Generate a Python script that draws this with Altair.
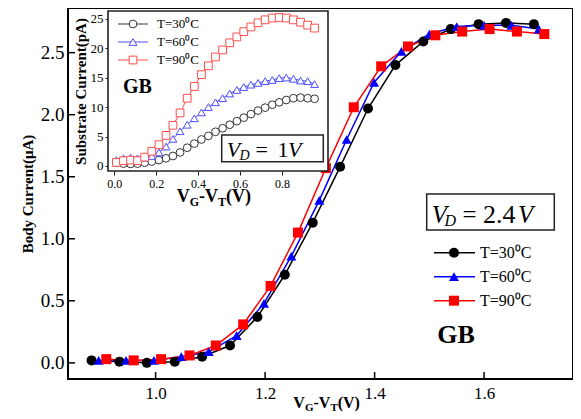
import altair as alt
import pandas as pd

series = ["T=30⁰C", "T=60⁰C", "T=90⁰C"]

# ---- main panel (body current, uA) ----
x_30 = [0.883, 0.934, 0.984, 1.035, 1.085, 1.136, 1.186, 1.236, 1.287, 1.337, 1.388, 1.438, 1.489, 1.539, 1.590, 1.640, 1.691]
y_30 = [0.02, 0.01, 0.00, 0.01, 0.05, 0.14, 0.37, 0.71, 1.13, 1.58, 2.05, 2.40, 2.59, 2.69, 2.73, 2.74, 2.73]
x_60 = [0.896, 0.946, 0.997, 1.047, 1.097, 1.148, 1.198, 1.248, 1.299, 1.349, 1.399, 1.449, 1.500, 1.550, 1.600, 1.650, 1.700]
y_60 = [0.02, 0.02, 0.02, 0.05, 0.09, 0.22, 0.48, 0.86, 1.31, 1.80, 2.26, 2.51, 2.65, 2.71, 2.72, 2.72, 2.69]
x_90 = [0.910, 0.960, 1.010, 1.062, 1.110, 1.160, 1.210, 1.260, 1.311, 1.362, 1.412, 1.461, 1.511, 1.560, 1.610, 1.660, 1.710]
y_90 = [0.03, 0.02, 0.03, 0.06, 0.14, 0.31, 0.62, 1.05, 1.57, 2.06, 2.39, 2.55, 2.64, 2.67, 2.69, 2.67, 2.65]

main_x_ticks = [1.0, 1.2, 1.4, 1.6]
main_y_ticks = [0.0, 0.5, 1.0, 1.5, 2.0, 2.5]

# ---- inset (substrate current, pA) ----
xs_in = [0.010, 0.044, 0.078, 0.111, 0.145, 0.179, 0.213, 0.247, 0.280, 0.314, 0.348, 0.382, 0.416, 0.449,
         0.483, 0.517, 0.551, 0.585, 0.618, 0.652, 0.686, 0.720, 0.754, 0.787, 0.821, 0.855, 0.889, 0.923, 0.956]
in_30 = [0.56, 0.4, 0.35, 0.4, 0.55, 0.75, 1.0, 1.3, 1.7, 2.3, 3.1, 3.8, 4.5, 5.1, 5.8, 6.4, 7.0, 7.6, 8.2,
         8.8, 9.4, 9.9, 10.4, 10.8, 11.2, 11.5, 11.6, 11.5, 11.4]
in_60 = [1.0, 1.3, 1.4, 1.3, 1.4, 1.7, 2.3, 3.3, 4.6, 5.9, 7.0, 8.1, 9.1, 10.0, 10.8, 11.5, 12.3, 12.9, 13.4,
         13.8, 14.1, 14.4, 14.6, 14.9, 15.0, 14.8, 14.5, 14.4, 13.9]
in_90 = [0.6, 0.9, 1.0, 0.9, 1.5, 2.5, 3.6, 5.2, 6.9, 9.0, 11.5, 13.5, 15.5, 17.0, 18.5, 19.7, 20.9, 21.9, 22.8,
         23.6, 24.3, 24.8, 25.1, 25.2, 25.1, 24.8, 24.4, 23.9, 23.4]
inset_x_ticks = [0.0, 0.2, 0.4, 0.6, 0.8]
inset_y_ticks = [0, 5, 10, 15, 20, 25]

FONT = "Liberation Serif"
W, H = 505, 371

main_colors = ["#000000", "#0000ff", "#ff0000"]
inset_colors = ["#333333", "#4d4dff", "#ff4d4d"]
shapes = ["circle", "triangle-up", "square"]

main_df = pd.DataFrame({
    "x": x_30 + x_60 + x_90,
    "y": y_30 + y_60 + y_90,
    "s": [series[0]] * len(x_30) + [series[1]] * len(x_60) + [series[2]] * len(x_90),
})
inset_df = pd.DataFrame({
    "x": xs_in * 3,
    "y": in_30 + in_60 + in_90,
    "s": [series[0]] * len(xs_in) + [series[1]] * len(xs_in) + [series[2]] * len(xs_in),
})
one = pd.DataFrame({"a": [0]})


def mx():
    return alt.Scale(domain=[0.84, 1.7624], nice=False, zero=False)


def my():
    return alt.Scale(domain=[-0.13, 2.86], nice=False, zero=False)


mcolor = alt.Scale(domain=series, range=main_colors)
mshape = alt.Scale(domain=series, range=shapes)

base = alt.Chart(main_df)
main_lines = base.mark_line(strokeWidth=1.5).encode(
    x=alt.X("x:Q", scale=mx(), axis=alt.Axis(orient="bottom", values=main_x_ticks, format=".1f", ticks=False,
                                              domain=False, grid=False, labelFontSize=17, labelPadding=6,
                                              title=None, labelFlush=False, labelOverlap=False)),
    y=alt.Y("y:Q", scale=my(), axis=alt.Axis(orient="left", values=main_y_ticks, format=".1f", ticks=False,
                                              domain=False, grid=False, labelFontSize=19, labelPadding=4,
                                              title="Body Current(μA)", titleFontSize=15,
                                              titleFontWeight="bold", titlePadding=5,
                                              labelFlush=False, labelOverlap=False)),
    color=alt.Color("s:N", scale=mcolor, legend=None),
    detail="s:N",
)
main_pts = base.mark_point(filled=True, size=100, opacity=1).encode(
    x=alt.X("x:Q", scale=mx(), axis=None),
    y=alt.Y("y:Q", scale=my(), axis=None),
    color=alt.Color("s:N", scale=mcolor, legend=None),
    shape=alt.Shape("s:N", scale=mshape, legend=None),
)
xt = alt.Chart(pd.DataFrame({"t": main_x_ticks})).mark_rule(color="black", strokeWidth=1.5).encode(
    x=alt.X("t:Q", scale=mx(), axis=None), y=alt.value(H), y2=alt.value(H - 7))
yt = alt.Chart(pd.DataFrame({"t": main_y_ticks})).mark_rule(color="black", strokeWidth=1.5).encode(
    y=alt.Y("t:Q", scale=my(), axis=None), x=alt.value(0), x2=alt.value(7))

# inset
IX0, IX1, IY0, IY1 = 40, 260, 3, 163


def ix():
    return alt.Scale(domain=[-0.03, 1.02], range=[IX0, IX1], nice=False, zero=False)


def iy():
    return alt.Scale(domain=[-0.85, 26.3], range=[IY1, IY0], nice=False, zero=False)


icolor = alt.Scale(domain=series, range=inset_colors)
ishape = alt.Scale(domain=series, range=shapes)

inset_bg = alt.Chart(one).mark_rect(fill="white", stroke="#222", strokeWidth=1.6).encode(
    x=alt.value(IX0), x2=alt.value(IX1), y=alt.value(IY0), y2=alt.value(IY1))
ibase = alt.Chart(inset_df)
in_lines = ibase.mark_line(strokeWidth=1).encode(
    x=alt.X("x:Q", scale=ix(), axis=alt.Axis(orient="bottom", offset=-(H - IY1), values=inset_x_ticks,
                                              format=".1f", tickSize=4, tickColor="#222", domain=False,
                                              grid=False, labelFontSize=12, labelPadding=3, title=None,
                                              labelFlush=False, labelOverlap=False)),
    y=alt.Y("y:Q", scale=iy(), axis=alt.Axis(orient="left", offset=-IX0, values=inset_y_ticks, format="d",
                                              tickSize=3, tickColor="#222", domain=False, grid=False,
                                              labelFontSize=13, labelPadding=2,
                                              title="Substrate Current(pA)", titleFontSize=15,
                                              titleFontWeight="bold", titlePadding=2,
                                              labelFlush=False, labelOverlap=False)),
    color=alt.Color("s:N", scale=icolor, legend=None),
    detail="s:N",
)
in_pts = ibase.mark_point(filled=False, size=60, strokeWidth=1, opacity=1, fill="white", fillOpacity=1).encode(
    x=alt.X("x:Q", scale=ix(), axis=None),
    y=alt.Y("y:Q", scale=iy(), axis=None),
    color=alt.Color("s:N", scale=icolor, legend=None),
    shape=alt.Shape("s:N", scale=ishape, legend=None),
)


def txt(s, x, y, size, weight="normal", style="normal", align="left", baseline="alphabetic"):
    return alt.Chart(one).mark_text(text=s, font=FONT, fontSize=size, fontWeight=weight, fontStyle=style,
                                    align=align, baseline=baseline, color="black").encode(
        x=alt.value(x), y=alt.value(y))


def box(x0, y0, x1, y1):
    return alt.Chart(one).mark_rect(fill="white", stroke="#222", strokeWidth=1.5).encode(
        x=alt.value(x0), x2=alt.value(x1), y=alt.value(y0), y2=alt.value(y1))


anno = []
# main V_D box
anno.append(box(358.7, 186, 486.3, 222))
anno += [txt("V", 363.7, 214.7, 25, style="italic"), txt("D", 376.5, 218, 16, style="italic"),
         txt("=", 394.5, 214.7, 25), txt("2.4", 415, 214.7, 26), txt("V", 450, 214.7, 25, style="italic")]
# inset V_D box
anno.append(box(153.7, 127, 255.3, 153.7))
anno += [txt("V", 158.7, 148.7, 22, style="italic"), txt("D", 171.5, 152, 14, style="italic"),
         txt("=", 187.5, 148.7, 22), txt("1", 209.5, 148.7, 22), txt("V", 220, 148.7, 22, style="italic")]
# GB labels
anno += [txt("GB", 388, 335.3, 26, weight="bold", align="center"),
         txt("GB", 69.5, 85, 20, weight="bold", align="center")]
# main x title V_G-V_T(V)
anno += [txt("V", 225.3, 399.5, 16, weight="bold"), txt("G", 236.9, 402.5, 11, weight="bold"),
         txt("-V", 245.5, 399.5, 16, weight="bold"), txt("T", 262.4, 402.5, 11, weight="bold"),
         txt("(V)", 269.7, 399.5, 16, weight="bold")]
# inset x title
anno += [txt("V", 108.7, 193.7, 18, weight="bold"), txt("G", 121.7, 197.7, 12, weight="bold"),
         txt("-V", 131, 193.7, 18, weight="bold"), txt("T", 150, 197.7, 12, weight="bold"),
         txt("(V)", 158, 193.7, 18, weight="bold")]

# legends
leg = []
for i, (s, c, sh) in enumerate(zip(series, main_colors, shapes)):
    yy = 244.7 + 24 * i
    leg.append(alt.Chart(one).mark_rule(color=c, strokeWidth=1.5).encode(
        x=alt.value(366), x2=alt.value(407), y=alt.value(yy)))
    leg.append(alt.Chart(one).mark_point(filled=True, size=100, color=c, shape=sh, opacity=1).encode(
        x=alt.value(386), y=alt.value(yy)))
    leg.append(txt(s, 412, yy, 16, baseline="middle"))
for i, (s, c, sh) in enumerate(zip(series, inset_colors, shapes)):
    yy = 16 + 18 * i
    leg.append(alt.Chart(one).mark_rule(color=c, strokeWidth=1).encode(
        x=alt.value(50), x2=alt.value(80), y=alt.value(yy)))
    leg.append(alt.Chart(one).mark_point(filled=False, size=60, strokeWidth=1, color=c, shape=sh,
                                         fill="white", fillOpacity=1, opacity=1).encode(
        x=alt.value(65), y=alt.value(yy)))
    leg.append(txt(s, 89, yy, 13, baseline="middle"))

chart = alt.layer(main_lines, main_pts, xt, yt, inset_bg, in_lines, in_pts, *anno, *leg).resolve_scale(
    x="independent", y="independent", color="independent", shape="independent"
).resolve_axis(x="independent", y="independent").properties(
    width=W, height=H,
    autosize=alt.AutoSizeParams(type="none"),
    padding={"left": 60, "top": 0, "right": 0, "bottom": 32},
).configure_view(stroke="black", strokeWidth=2).configure_axis(
    labelFont=FONT, titleFont=FONT, labelColor="black", titleColor="black"
)

chart.save("out.html", embed_options={"renderer": "svg", "actions": False})
